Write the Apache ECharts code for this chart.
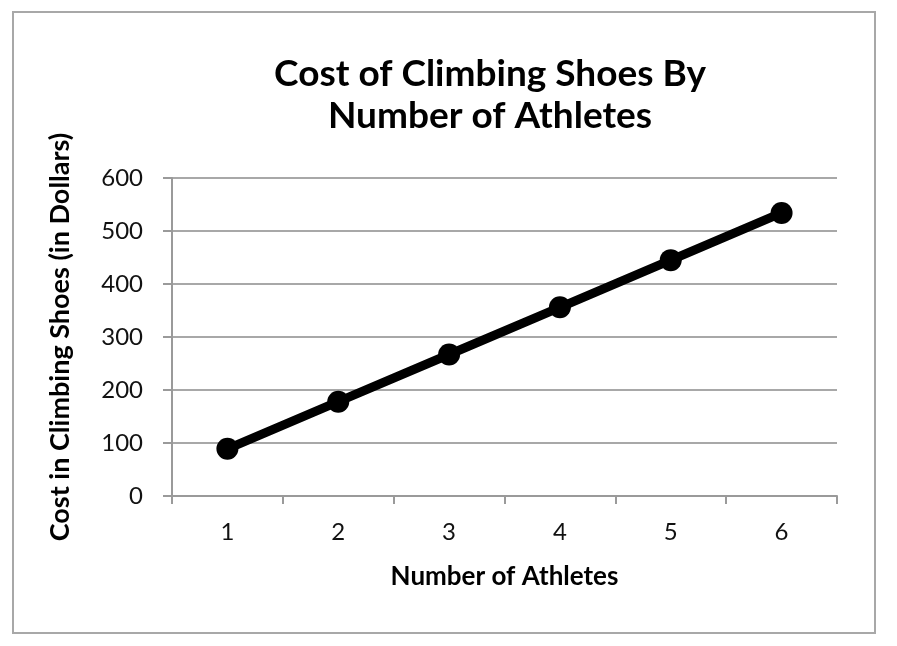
<!DOCTYPE html>
<html><head><meta charset="utf-8">
<script src="https://cdn.jsdelivr.net/npm/echarts@6/dist/echarts.min.js"></script>
<style>html,body{margin:0;padding:0;background:#fff}#c{width:897px;height:646px;}</style>
</head><body><div id="c"></div>
<script>
const titleLines = ['Cost of Climbing Shoes By', 'Number of Athletes'];
const athletes = ['1', '2', '3', '4', '5', '6'];
const cost = [89, 178, 267, 356, 445, 534];
const yTicks = [0, 100, 200, 300, 400, 500, 600];
const xName = 'Number of Athletes';
const yName = 'Cost in Climbing Shoes (in Dollars)';
const F = 'Lato, "Open Sans", sans-serif';
const chart = echarts.init(document.getElementById('c'));
chart.setOption({
  animation: false,
  backgroundColor: '#fff',
  graphic: [
    {type:'rect', shape:{x:13, y:12, width:862, height:621}, style:{fill:'none', stroke:'#a8a8a8', lineWidth:2}},
    {type:'text', x:490, y:74, style:{text:titleLines[0], font:'bold 37px '+F, fill:'#000', align:'center', verticalAlign:'middle'}},
    {type:'text', x:490, y:116, style:{text:titleLines[1], font:'bold 37px '+F, fill:'#000', align:'center', verticalAlign:'middle'}}
  ],
  grid: {left:172, right:60, top:178, bottom:150, containLabel:false},
  xAxis: {
    type:'category', data: athletes, boundaryGap:true,
    name: xName, nameLocation:'middle', nameGap:68,
    nameTextStyle:{fontFamily:F, fontWeight:'bold', fontSize:26, color:'#000'},
    axisLine:{lineStyle:{color:'#9a9a9a', width:2}},
    axisTick:{show:true, length:8, lineStyle:{color:'#9a9a9a', width:2}},
    axisLabel:{margin:24, fontFamily:F, fontSize:24, color:'#111'},
    splitLine:{show:false}
  },
  yAxis: {
    type:'value', min: yTicks[0], max: yTicks[yTicks.length-1], interval: 100,
    name: yName, nameLocation:'middle', nameGap:98,
    nameTextStyle:{fontFamily:F, fontWeight:'bold', fontSize:27, color:'#000'},
    axisLine:{show:true, lineStyle:{color:'#9a9a9a', width:2}},
    axisTick:{show:true, length:9, lineStyle:{color:'#9a9a9a', width:2}},
    axisLabel:{margin:29, fontFamily:F, fontSize:24, color:'#111'},
    splitLine:{lineStyle:{color:'#a8a8a8', width:2}}
  },
  series: [{
    type:'line', data: cost,
    symbol:'circle', symbolSize:22,
    lineStyle:{color:'#000', width:9},
    itemStyle:{color:'#000'}
  }]
});
</script></body></html>
